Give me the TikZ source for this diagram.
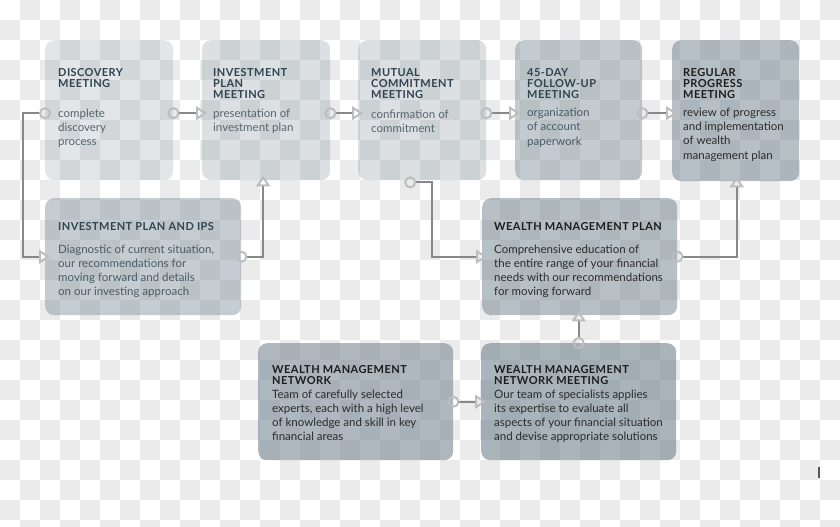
\documentclass[tikz,border=0pt]{standalone}
\usepackage{fontspec}
\setmainfont{Lato}
\usetikzlibrary{arrows.meta}

\definecolor{checkgray}{HTML}{EBEBEB}
\definecolor{boxgray}{HTML}{7C8C96}
\definecolor{linegray}{HTML}{888888}
\definecolor{tipgray}{HTML}{BDBDBD}
\definecolor{titleslate}{HTML}{2F4350}
\definecolor{bodyslate}{HTML}{56656E}
\definecolor{bodymid}{HTML}{4A5A64}
\definecolor{titledark}{HTML}{1C1C1C}
\definecolor{bodydark}{HTML}{2B2B2B}

\begin{document}
\begin{tikzpicture}[x=1pt,y=-1pt,
  stage/.style 2 args={anchor=north west, rounded corners=9pt, fill=boxgray,
    inner sep=0pt, minimum width=#1, minimum height=#2},
  heading/.style={anchor=north west, inner sep=0pt, align=left,
    font=\fontsize{11}{11}\selectfont\bfseries\addfontfeatures{LetterSpace=4}},
  blurb/.style={anchor=north west, inner sep=0pt, align=left,
    font=\fontsize{11.5}{14.2}\selectfont},
  flow/.style={draw=linegray, line width=2pt, shorten <=-6pt, shorten >=-5pt,
    {Circle[open, length=12pt, width=12pt, color=tipgray]}-{Triangle[open, length=11pt, width=14pt, color=tipgray]}}]

  \useasboundingbox (0,0) rectangle (840,527);

  % transparency checkerboard
  \foreach \i in {0,...,41}{
    \foreach \j in {0,...,26}{
      \pgfmathtruncatemacro{\odd}{mod(\i+\j,2)}
      \ifnum\odd=1 \fill[checkgray] (20*\i,20*\j) rectangle ++(20,20); \fi
    }
  }

  % top row of meetings
  \node[stage={128}{140}, fill opacity=0.22] (d1) at (45,40) {};
  \node[stage={128}{140}, fill opacity=0.27] (ipm) at (202,40) {};
  \node[stage={128}{140}, fill opacity=0.27] (mcm) at (358,40) {};
  \node[stage={127}{140}, fill opacity=0.45] (fup) at (515,40) {};
  \node[stage={127}{141}, fill opacity=0.56] (rpm) at (672,40) {};

  % plans and network
  \node[stage={196}{117}, fill opacity=0.43] (ips) at (45,198) {};
  \node[stage={195}{117}, fill opacity=0.55] (wmp) at (482,198) {};
  \node[stage={195}{117}, fill opacity=0.62] (wmn) at (258,343) {};
  \node[stage={195}{117}, fill opacity=0.65] (wnm) at (481,343) {};

  % texts
  \node[heading, titleslate] (d1t) at (58,68) {DISCOVERY\\MEETING};
  \node[blurb, bodyslate] (d1b) at (58,108.5) {complete\\discovery\\process};

  \node[heading, titleslate] (ipmt) at (213,68) {INVESTMENT\\PLAN\\MEETING};
  \node[blurb, bodyslate] (ipmb) at (213,108.5) {presentation of\\investment plan};

  \node[heading, titleslate] (mcmt) at (371,68) {MUTUAL\\COMMITMENT\\MEETING};
  \node[blurb, bodyslate] (mcmb) at (371,110) {confirmation of\\commitment};

  \node[heading, titleslate] (fupt) at (527,68) {45-DAY\\FOLLOW-UP\\MEETING};
  \node[blurb, bodymid] (fupb) at (527,108) {organization\\of account\\paperwork};

  \node[heading, titledark] (rpmt) at (683,68) {REGULAR\\PROGRESS\\MEETING};
  \node[blurb, bodydark] (rpmb) at (683,108) {review of progress\\and implementation\\of wealth\\management plan};

  \node[heading, titleslate] (ipst) at (58,222) {INVESTMENT PLAN AND IPS};
  \node[blurb, bodymid] (ipsb) at (58,244.5) {Diagnostic of current situation,\\our recommendations for\\moving forward and details\\on our investing approach};

  \node[heading, titledark] (wmpt) at (494,222) {WEALTH MANAGEMENT PLAN};
  \node[blurb, bodydark] (wmpb) at (494,244.5) {Comprehensive education of\\the entire range of your financial\\needs with our recommendations\\for moving forward};

  \node[heading, titledark] (wmnt) at (272,365) {WEALTH MANAGEMENT\\NETWORK};
  \node[blurb, bodydark] (wmnb) at (272,389.5) {Team of carefully selected\\experts, each with a high level\\of knowledge and skill in key\\financial areas};

  \node[heading, titledark] (wnmt) at (494,365) {WEALTH MANAGEMENT\\NETWORK MEETING};
  \node[blurb, bodydark] (wnmb) at (494,389.5) {Our team of specialists applies\\its expertise to evaluate all\\aspects of your financial situation\\and devise appropriate solutions};

  % connectors
  \draw[flow] ([yshift=-3pt]d1.west) -- ++(-22,0) |- (ips.west);
  \draw[flow] ([yshift=-3pt]d1.east) -- ([yshift=-3pt]ipm.west);
  \draw[flow] ([yshift=-3pt]ipm.east) -- ([yshift=-3pt]mcm.west);
  \draw[flow] ([yshift=-3pt]mcm.east) -- ([yshift=-3pt]fup.west);
  \draw[flow] ([yshift=-3pt]fup.east) -- ([yshift=-3pt]fup.east -| rpm.west);
  \draw[flow] (ips.east) -| ([xshift=-3pt]ipm.south);
  \draw[flow] ([xshift=-12pt,yshift=-2pt]mcm.south) -- ++(22,0) |- (wmp.west);
  \draw[flow] (wmp.east) -| ([xshift=1pt]rpm.south);
  \draw[flow] (wnm.north) -- (wnm.north |- wmp.south);
  \draw[flow] (wmn.east) -- (wnm.west);

  % stray mark
  \draw[line width=1.5pt, bodymid] (819,467) -- (819,478);
\end{tikzpicture}
\end{document}
